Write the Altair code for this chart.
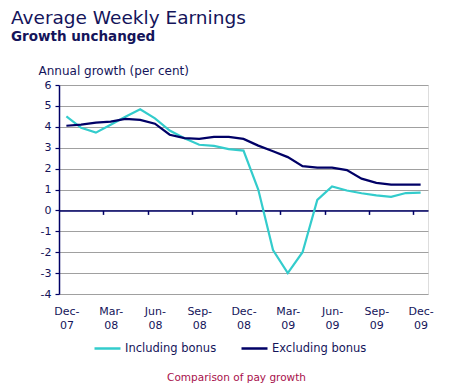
import altair as alt
import pandas as pd

months = ["Dec-07", "Jan-08", "Feb-08", "Mar-08", "Apr-08", "May-08", "Jun-08",
          "Jul-08", "Aug-08", "Sep-08", "Oct-08", "Nov-08", "Dec-08",
          "Jan-09", "Feb-09", "Mar-09", "Apr-09", "May-09", "Jun-09",
          "Jul-09", "Aug-09", "Sep-09", "Oct-09", "Nov-09", "Dec-09"]
including_bonus = [4.5, 3.95, 3.72, 4.1, 4.48, 4.84, 4.4, 3.82, 3.45, 3.14, 3.09, 2.93, 2.86,
                   1.0, -1.9, -3.0, -2.0, 0.5, 1.15, 0.95, 0.82, 0.72, 0.65, 0.83, 0.85]
excluding_bonus = [4.05, 4.1, 4.2, 4.25, 4.38, 4.33, 4.15, 3.62, 3.46, 3.42, 3.52, 3.52, 3.42,
                   3.1, 2.83, 2.55, 2.12, 2.05, 2.05, 1.93, 1.52, 1.32, 1.23, 1.23, 1.23]
tick_labels = ["Dec-07", "Mar-08", "Jun-08", "Sep-08", "Dec-08", "Mar-09", "Jun-09", "Sep-09", "Dec-09"]
y_ticks = [-4, -3, -2, -1, 0, 1, 2, 3, 4, 5, 6]
series = ["Including bonus", "Excluding bonus"]
colors = ["#33CCCC", "#000066"]

rows = []
for i, m in enumerate(months):
    rows.append({"idx": i, "month": m, "series": series[0], "value": including_bonus[i]})
    rows.append({"idx": i, "month": m, "series": series[1], "value": excluding_bonus[i]})
df = pd.DataFrame(rows)

tick_idx = [months.index(t) for t in tick_labels]
boundary_ticks = [t + 2.5 for t in tick_idx[:-1]]
label_expr = "[" + ",".join(
    "['%s-','%s']" % (t.split("-")[0], t.split("-")[1]) for t in tick_labels
) + "][round(datum.value/3)]"

FONT = "DejaVu Sans"
NAVY = "#000066"
TXT = "#14145a"

x_scale = alt.Scale(domain=[-0.5, len(months) - 0.5], nice=False, zero=False)
y_enc = alt.Y(
    "value:Q",
    scale=alt.Scale(domain=[-4, 6], nice=False),
    axis=alt.Axis(
        values=y_ticks, grid=True, gridColor="#A0A0A0", gridWidth=1,
        labelExpr="'' + datum.value",
        domainColor=NAVY, domainWidth=1.5, tickColor=NAVY, tickSize=4, tickWidth=1.2,
        labelColor=TXT, labelFont=FONT, labelFontSize=11, labelPadding=4,
        title="Annual growth (per cent)", titleAngle=0, titleAlign="left",
        titleBaseline="alphabetic", titleX=-21, titleY=-11,
        titleFont=FONT, titleFontSize=12, titleFontWeight="normal", titleColor=TXT,
    ),
)
color_enc = alt.Color(
    "series:N",
    scale=alt.Scale(domain=series, range=colors),
    legend=alt.Legend(
        orient="none", legendX=34, legendY=249, direction="horizontal", title=None,
        symbolType="stroke", symbolSize=676, symbolStrokeWidth=2.5, padding=0,
        labelFont=FONT, labelFontSize=11.5, labelColor=TXT, labelOffset=3, columnPadding=19,
    ),
)

lines = alt.Chart(df).mark_line(strokeWidth=2.2).encode(
    x=alt.X("idx:Q", scale=x_scale, axis=alt.Axis(
        orient="bottom",
        values=tick_idx, labelExpr=label_expr, ticks=False, domain=False, grid=False,
        labelFont=FONT, labelFontSize=11, labelColor=TXT, labelLineHeight=14,
        labelBaseline="top", labelPadding=11, labelAngle=0,
        title="Comparison of pay growth", titleColor="#A8104C", titleFont=FONT,
        titleFontSize=10.5, titleFontWeight="normal", titleX=177, titleY=86,
        titleAlign="center", titleBaseline="alphabetic",
    )),
    y=y_enc,
    color=color_enc,
    detail="series:N",
)

zero_axis = alt.Chart(df).mark_line(opacity=0).encode(
    x=alt.X("idx:Q", scale=x_scale, axis=alt.Axis(
        orient="bottom",
        values=boundary_ticks, labels=False, ticks=True, tickSize=4, tickColor=NAVY,
        tickWidth=1.5, domain=True, domainColor=NAVY, domainWidth=1.5, grid=False,
        offset=-83.6, title="",
    )),
    y=y_enc,
    detail="series:N",
)

chart = alt.layer(zero_axis, lines).resolve_axis(x="independent").properties(
    width=369, height=209,
    autosize=alt.AutoSizeParams(type="none"),
    padding={"left": 51, "top": 77, "right": 32, "bottom": 89},
    title=alt.Title(
        text="Average Weekly Earnings", subtitle="Growth unchanged",
        anchor="start", frame="group", dx=-48, offset=21,
        font=FONT, fontSize=18.5, fontWeight="normal", color=TXT,
        subtitleFont=FONT, subtitleFontSize=13.5, subtitleFontWeight="bold",
        subtitleColor=TXT, subtitlePadding=2,
    ),
).configure_view(stroke=None).configure(background="white")

chart.save("out.html", embed_options={"renderer": "svg", "actions": False})
